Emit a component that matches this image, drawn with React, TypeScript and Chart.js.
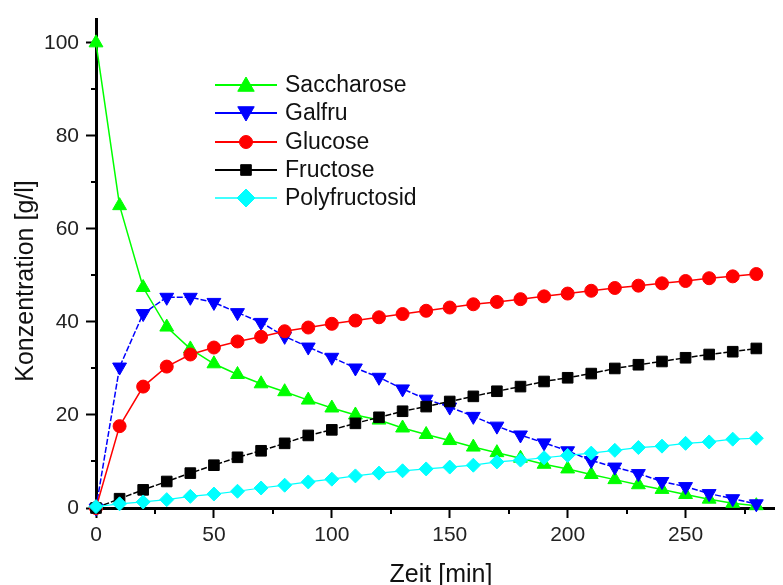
import React, { useEffect, useRef } from 'react';
import { Chart, registerables } from 'chart.js';
import { drawPoint } from 'chart.js/helpers';

Chart.register(...registerables);

const FONT = "'Liberation Sans', Arial, Helvetica, sans-serif";

const times = [0, 10, 20, 30, 40, 50, 60, 70, 80, 90, 100, 110, 120, 130, 140, 150, 160, 170, 180, 190, 200, 210, 220, 230, 240, 250, 260, 270, 280];

const saccharose = [100, 65, 47.4, 38.9, 34.2, 31.0, 28.7, 26.7, 25.0, 23.2, 21.5, 20.0, 18.9, 17.2, 15.8, 14.5, 13.1, 11.9, 10.7, 9.4, 8.4, 7.2, 6.1, 5.0, 4.0, 2.9, 1.9, 1.0, 0.5];
const galfru = [0, 30.3, 41.8, 45.3, 45.3, 44.2, 42.0, 39.9, 36.9, 34.6, 32.4, 30.1, 28.1, 25.6, 23.4, 21.7, 19.7, 17.6, 15.7, 14.0, 12.3, 10.2, 8.8, 7.4, 5.7, 4.6, 3.1, 2.0, 0.9];
const glucose = [0, 17.6, 26.1, 30.4, 33.0, 34.5, 35.8, 36.8, 38.0, 38.8, 39.6, 40.3, 41.0, 41.7, 42.4, 43.1, 43.8, 44.3, 44.9, 45.5, 46.1, 46.7, 47.3, 47.8, 48.3, 48.8, 49.4, 49.8, 50.3];
const fructose = [0, 2.0, 3.9, 5.7, 7.5, 9.2, 10.9, 12.3, 13.9, 15.6, 16.8, 18.2, 19.5, 20.8, 21.8, 22.9, 24.0, 25.1, 26.1, 27.2, 28.0, 28.9, 30.0, 30.8, 31.5, 32.3, 33.0, 33.6, 34.3];
const polyfructosid = [0.3, 0.9, 1.3, 1.8, 2.5, 3.0, 3.6, 4.3, 4.9, 5.6, 6.2, 6.9, 7.5, 8.0, 8.4, 8.8, 9.2, 9.9, 10.3, 10.8, 11.3, 11.8, 12.4, 13.0, 13.3, 13.9, 14.2, 14.8, 15.0];

const seriesNames = ['Saccharose', 'Galfru', 'Glucose', 'Fructose', 'Polyfructosid'];
const seriesValues = [saccharose, galfru, glucose, fructose, polyfructosid];
const seriesColors = ['#00ff00', '#0000ff', '#ff0000', '#000000', '#00ffff'];
const seriesMarkers = ['triangle', 'triangle', 'circle', 'rect', 'rectRot'];
const seriesRotation = [0, 180, 0, 0, 0];
const seriesRadius = [8, 8, 6.5, 7.5, 7];
const legendRadius = [9.5, 9.5, 6.5, 7.5, 9];
const seriesLineWidth = [1.5, 1.5, 1.5, 1.5, 1.2];
const seriesDash = [[], [6, 2], [], [6, 2], []];

const xTicks = [0, 50, 100, 150, 200, 250];
const xMinorTicks = [25, 75, 125, 175, 225, 275];
const yTicks = [0, 20, 40, 60, 80, 100];
const yMinorTicks = [10, 30, 50, 70, 90];

const xTitle = 'Zeit [min]';
const yTitle = 'Konzentration [g/l]';

const decorPlugin = {
  id: 'decor',
  afterDraw(chart: any) {
    const ctx = chart.ctx;
    const xs = chart.scales.x;
    const ys = chart.scales.y;
    const area = chart.chartArea;
    ctx.save();
    // minor ticks
    ctx.strokeStyle = '#000';
    ctx.lineWidth = 2;
    ctx.beginPath();
    yMinorTicks.forEach((v) => {
      const y = Math.round(ys.getPixelForValue(v));
      ctx.moveTo(area.left - 5, y);
      ctx.lineTo(area.left, y);
    });
    xMinorTicks.forEach((v) => {
      const x = Math.round(xs.getPixelForValue(v));
      ctx.moveTo(x, area.bottom);
      ctx.lineTo(x, area.bottom + 6);
    });
    ctx.stroke();

    // axis titles
    ctx.fillStyle = '#111';
    ctx.font = `25px ${FONT}`;
    ctx.textAlign = 'center';
    ctx.textBaseline = 'alphabetic';
    ctx.fillText(xTitle, 441, 582);
    ctx.save();
    ctx.translate(33, 281);
    ctx.rotate(-Math.PI / 2);
    ctx.fillText(yTitle, 0, 0);
    ctx.restore();

    // legend
    const lx0 = 215;
    const lx1 = 277;
    const mx = 246;
    const tx = 285;
    const rowY = [85, 113, 142, 170, 198];
    ctx.font = `23px ${FONT}`;
    ctx.textAlign = 'left';
    ctx.textBaseline = 'middle';
    seriesNames.forEach((name, i) => {
      const y = rowY[i];
      ctx.strokeStyle = seriesColors[i];
      ctx.lineWidth = seriesLineWidth[i] + 0.5;
      ctx.setLineDash([]);
      ctx.beginPath();
      ctx.moveTo(lx0, y);
      ctx.lineTo(lx1, y);
      ctx.stroke();
      ctx.fillStyle = seriesColors[i];
      ctx.strokeStyle = seriesColors[i];
      ctx.lineWidth = 1;
      drawPoint(ctx, { pointStyle: seriesMarkers[i], radius: legendRadius[i], rotation: seriesRotation[i], borderWidth: 1 } as any, mx, y + (i === 0 ? 1.5 : i === 1 ? -1.5 : 0));
      ctx.fillStyle = '#111';
      ctx.fillText(name, tx, y + 1);
    });
    ctx.restore();
  },
};

export default function App() {
  const canvasRef = useRef<HTMLCanvasElement | null>(null);

  useEffect(() => {
    document.body.style.margin = '0';
    const canvas = canvasRef.current;
    if (!canvas) return;
    const datasets = seriesNames.map((name, i) => ({
      label: name,
      data: times.map((t, j) => ({ x: t, y: seriesValues[i][j] })),
      borderColor: seriesColors[i],
      backgroundColor: seriesColors[i],
      pointBackgroundColor: seriesColors[i],
      pointBorderColor: seriesColors[i],
      pointStyle: seriesMarkers[i],
      pointRotation: seriesRotation[i],
      pointRadius: seriesRadius[i],
      pointBorderWidth: 1,
      borderWidth: seriesLineWidth[i],
      borderDash: seriesDash[i],
      tension: 0,
      fill: false,
      clip: false,
      order: seriesNames.length - i,
    }));

    const chart = new Chart(canvas, {
      type: 'line',
      data: { datasets } as any,
      options: {
        animation: false,
        responsive: false,
        devicePixelRatio: 1,
        layout: { padding: { top: 17, left: 0, right: 0, bottom: 0 } },
        plugins: {
          legend: { display: false },
          tooltip: { enabled: false },
          title: { display: false },
        },
        scales: {
          x: {
            type: 'linear',
            min: 0,
            max: 287.5,
            afterBuildTicks: (axis: any) => {
              axis.ticks = xTicks.map((v) => ({ value: v }));
            },
            afterFit: (scale: any) => {
              scale.height = 77;
            },
            grid: {
              drawOnChartArea: false,
              drawTicks: true,
              tickLength: 10,
              tickWidth: 2,
              tickColor: '#000',
            },
            border: { display: true, color: '#000', width: 3 },
            ticks: {
              font: { family: FONT, size: 21 },
              color: '#222',
              padding: 5,
              maxRotation: 0,
              autoSkip: false,
            },
          },
          y: {
            type: 'linear',
            min: 0,
            max: 105,
            afterBuildTicks: (axis: any) => {
              axis.ticks = yTicks.map((v) => ({ value: v }));
            },
            afterFit: (scale: any) => {
              scale.width = 96;
            },
            grid: {
              drawOnChartArea: false,
              drawTicks: true,
              tickLength: 10,
              tickWidth: 2,
              tickColor: '#000',
            },
            border: { display: true, color: '#000', width: 3 },
            ticks: {
              font: { family: FONT, size: 21 },
              color: '#222',
              padding: 7,
              autoSkip: false,
            },
          },
        },
      } as any,
      plugins: [decorPlugin],
    });
    return () => chart.destroy();
  }, []);

  return (
    <div style={{ width: 783, height: 585, background: '#fff' }}>
      <canvas ref={canvasRef} width={783} height={585} style={{ display: 'block' }} />
    </div>
  );
}
